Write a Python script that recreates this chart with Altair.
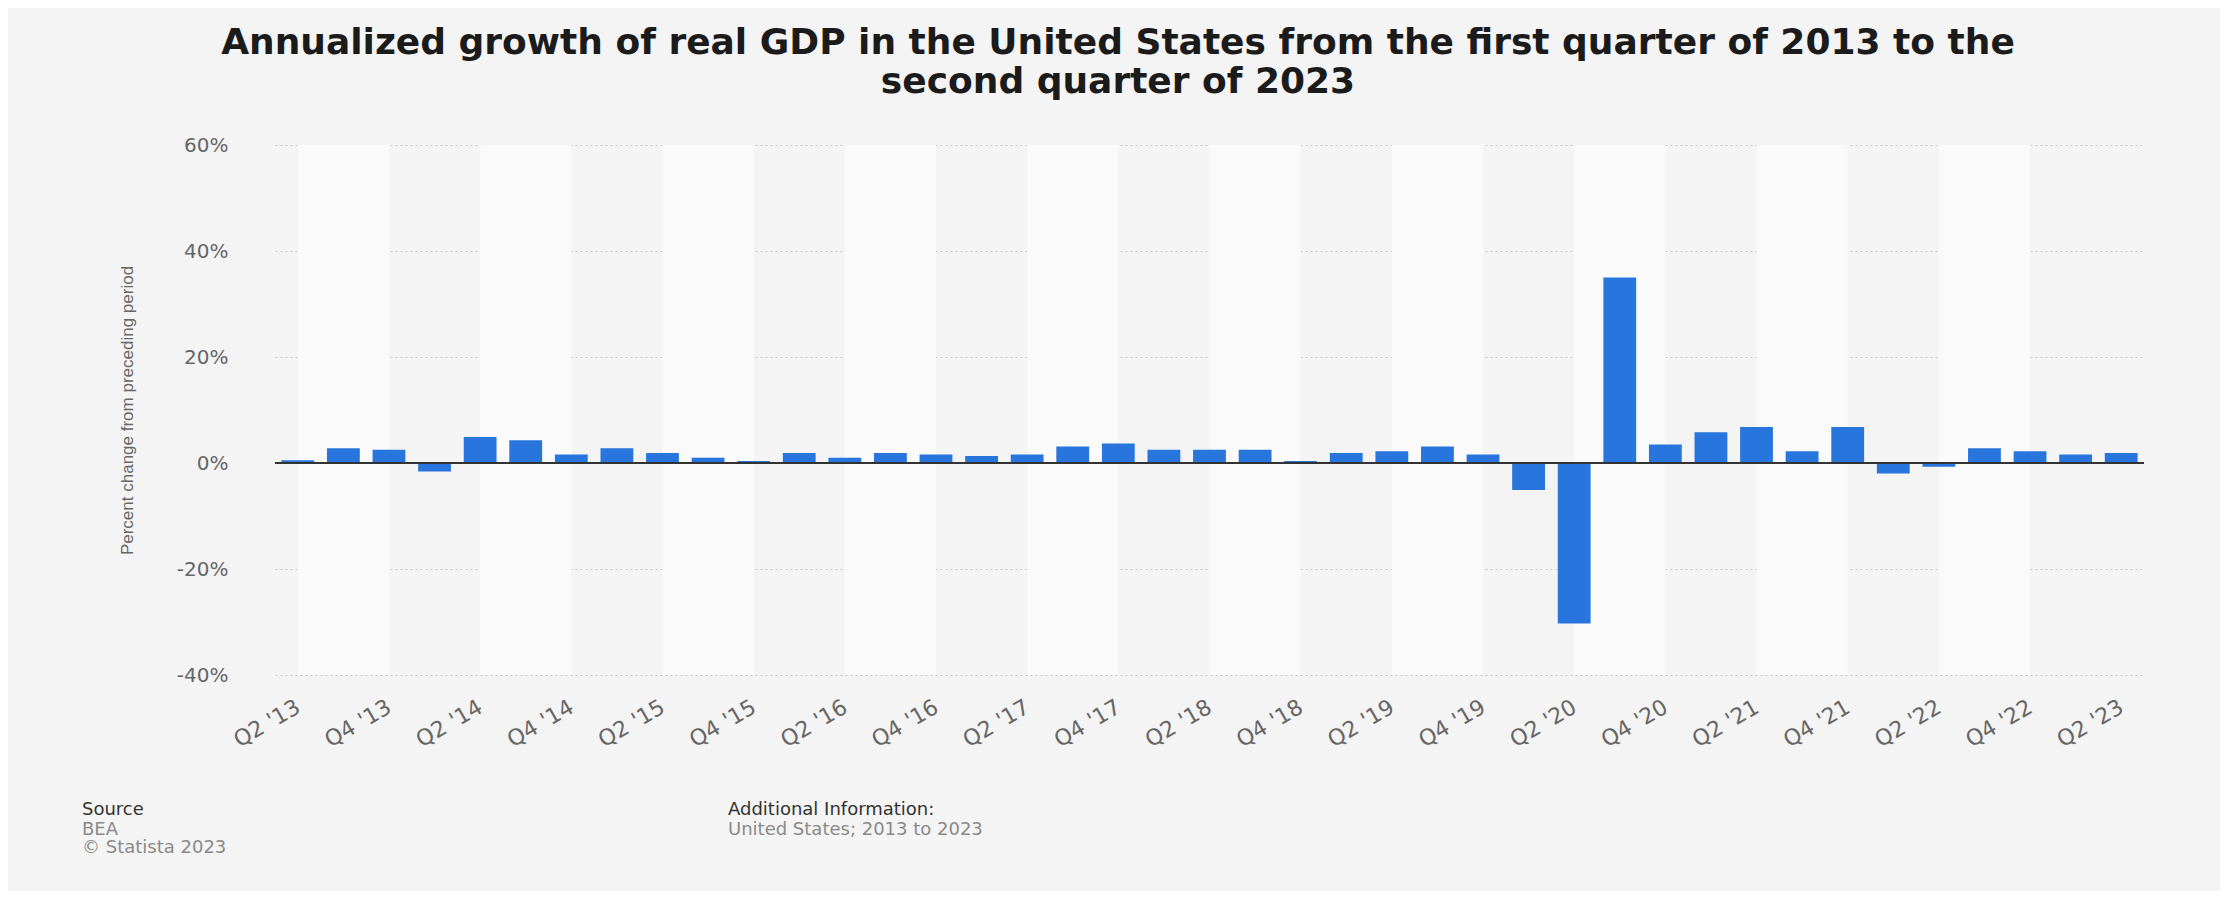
import json
import pandas as pd
import altair as alt

QUARTERS = [
    "Q2 '13", "Q3 '13", "Q4 '13",
    "Q1 '14", "Q2 '14", "Q3 '14", "Q4 '14",
    "Q1 '15", "Q2 '15", "Q3 '15", "Q4 '15",
    "Q1 '16", "Q2 '16", "Q3 '16", "Q4 '16",
    "Q1 '17", "Q2 '17", "Q3 '17", "Q4 '17",
    "Q1 '18", "Q2 '18", "Q3 '18", "Q4 '18",
    "Q1 '19", "Q2 '19", "Q3 '19", "Q4 '19",
    "Q1 '20", "Q2 '20", "Q3 '20", "Q4 '20",
    "Q1 '21", "Q2 '21", "Q3 '21", "Q4 '21",
    "Q1 '22", "Q2 '22", "Q3 '22", "Q4 '22",
    "Q1 '23", "Q2 '23",
]
GROWTH = [
    0.5, 2.8, 2.5,
    -1.6, 4.9, 4.3, 1.6,
    2.8, 1.9, 1.0, 0.4,
    1.9, 1.0, 1.9, 1.6,
    1.3, 1.6, 3.1, 3.7,
    2.5, 2.5, 2.5, 0.4,
    1.9, 2.2, 3.1, 1.6,
    -5.1, -30.3, 35.0, 3.5,
    5.8, 6.8, 2.2, 6.8,
    -2.0, -0.7, 2.8, 2.2,
    1.6, 1.9,
]
Y_TICKS = [-40, -20, 0, 20, 40, 60]
TITLE_LINES = [
    "Annualized growth of real GDP in the United States from the first quarter of 2013 to the",
    "second quarter of 2023",
]
Y_TITLE = "Percent change from preceding period"
SOURCE_LINES = ["Source", "BEA", "\u00a9 Statista 2023"]
INFO_LINES = ["Additional Information:", "United States; 2013 to 2023"]

df = pd.DataFrame({"idx": list(range(len(QUARTERS))), "quarter": QUARTERS, "growth": GROWTH})

W, H = 1869, 530
n = len(QUARTERS)
xscale = alt.Scale(domain=[-0.5, n - 0.5], nice=False, zero=False)
yscale = alt.Scale(domain=[Y_TICKS[0], Y_TICKS[-1]], nice=False, zero=False)

x_axis = alt.Axis(
    values=list(range(0, n, 2)),
    labelExpr=json.dumps(QUARTERS) + "[round(datum.value)]",
    labelAngle=-30, labelAlign="right", labelBaseline="middle", labelPadding=30,
    labelFont="DejaVu Sans", labelFontSize=22, labelColor="#666666",
    labelOverlap=False, labelFlush=False, labelBound=False,
    domain=False, ticks=False, tickSize=0, grid=False, title=None,
)
y_axis = alt.Axis(
    values=Y_TICKS, labelExpr="datum.value + '%'",
    labelFont="DejaVu Sans", labelFontSize=20, labelColor="#666666", labelPadding=47,
    domain=False, ticks=False, tickSize=0,
    grid=True, gridColor="#c8c8c8", gridDash=[2, 3], gridWidth=1,
    title=Y_TITLE, titleFont="Liberation Sans", titleFontSize=17, titleFontWeight="normal",
    titleColor="#666666", titleAngle=270, titleAlign="center", titleBaseline="middle",
    titleX=-148, titleY=265,
)

bands = (
    alt.Chart(df)
    .transform_filter(f"datum.idx % 4 == 0 && datum.idx < {n - 1}")
    .transform_calculate(end="datum.idx + 2")
    .mark_rect(color="#fafafa")
    .encode(x=alt.X("idx:Q", scale=xscale, axis=x_axis), x2="end:Q")
)

bars = (
    alt.Chart(df)
    .transform_calculate(x0="datum.idx - 0.36", x1="datum.idx + 0.36")
    .mark_rect(color="#2876dd")
    .encode(
        x=alt.X("x0:Q", scale=xscale, axis=x_axis),
        x2="x1:Q",
        y=alt.Y("growth:Q", scale=yscale, axis=y_axis),
        y2=alt.datum(0),
    )
)

zero = (
    alt.Chart(pd.DataFrame({"baseline": [0]}))
    .mark_rule(color="#333333", strokeWidth=2)
    .encode(y=alt.Y("baseline:Q", scale=yscale, axis=y_axis))
)


def txt(s, x, y, size, color, weight="normal", font="DejaVu Sans", align="left"):
    return (
        alt.Chart(pd.DataFrame({"t": [s]}))
        .mark_text(align=align, baseline="alphabetic", font=font, fontSize=size,
                   fontWeight=weight, color=color)
        .encode(text="t:N", x=alt.value(x), y=alt.value(y))
    )


texts = [
    txt(TITLE_LINES[0], 843, -91, 36, "#1b1b1b", "bold", align="center"),
    txt(TITLE_LINES[1], 843, -52, 36, "#1b1b1b", "bold", align="center"),
    txt(SOURCE_LINES[0], -193, 670, 18, "#333333"),
    txt(SOURCE_LINES[1], -193, 690, 18, "#8a8a8a"),
    txt(SOURCE_LINES[2], -193, 708, 18, "#8a8a8a"),
    txt(INFO_LINES[0], 453, 670, 18, "#333333"),
    txt(INFO_LINES[1], 453, 690, 18, "#8a8a8a"),
]

chart = (
    alt.layer(bands, bars, zero, *texts)
    .properties(
        width=W, height=H,
        autosize=alt.AutoSizeParams(type="none"),
        padding={"left": 267, "top": 137, "right": 76, "bottom": 216},
        background="#f4f4f4",
    )
    .configure_view(strokeWidth=0)
)

chart.save("out.html", embed_options={"renderer": "svg", "actions": False})
